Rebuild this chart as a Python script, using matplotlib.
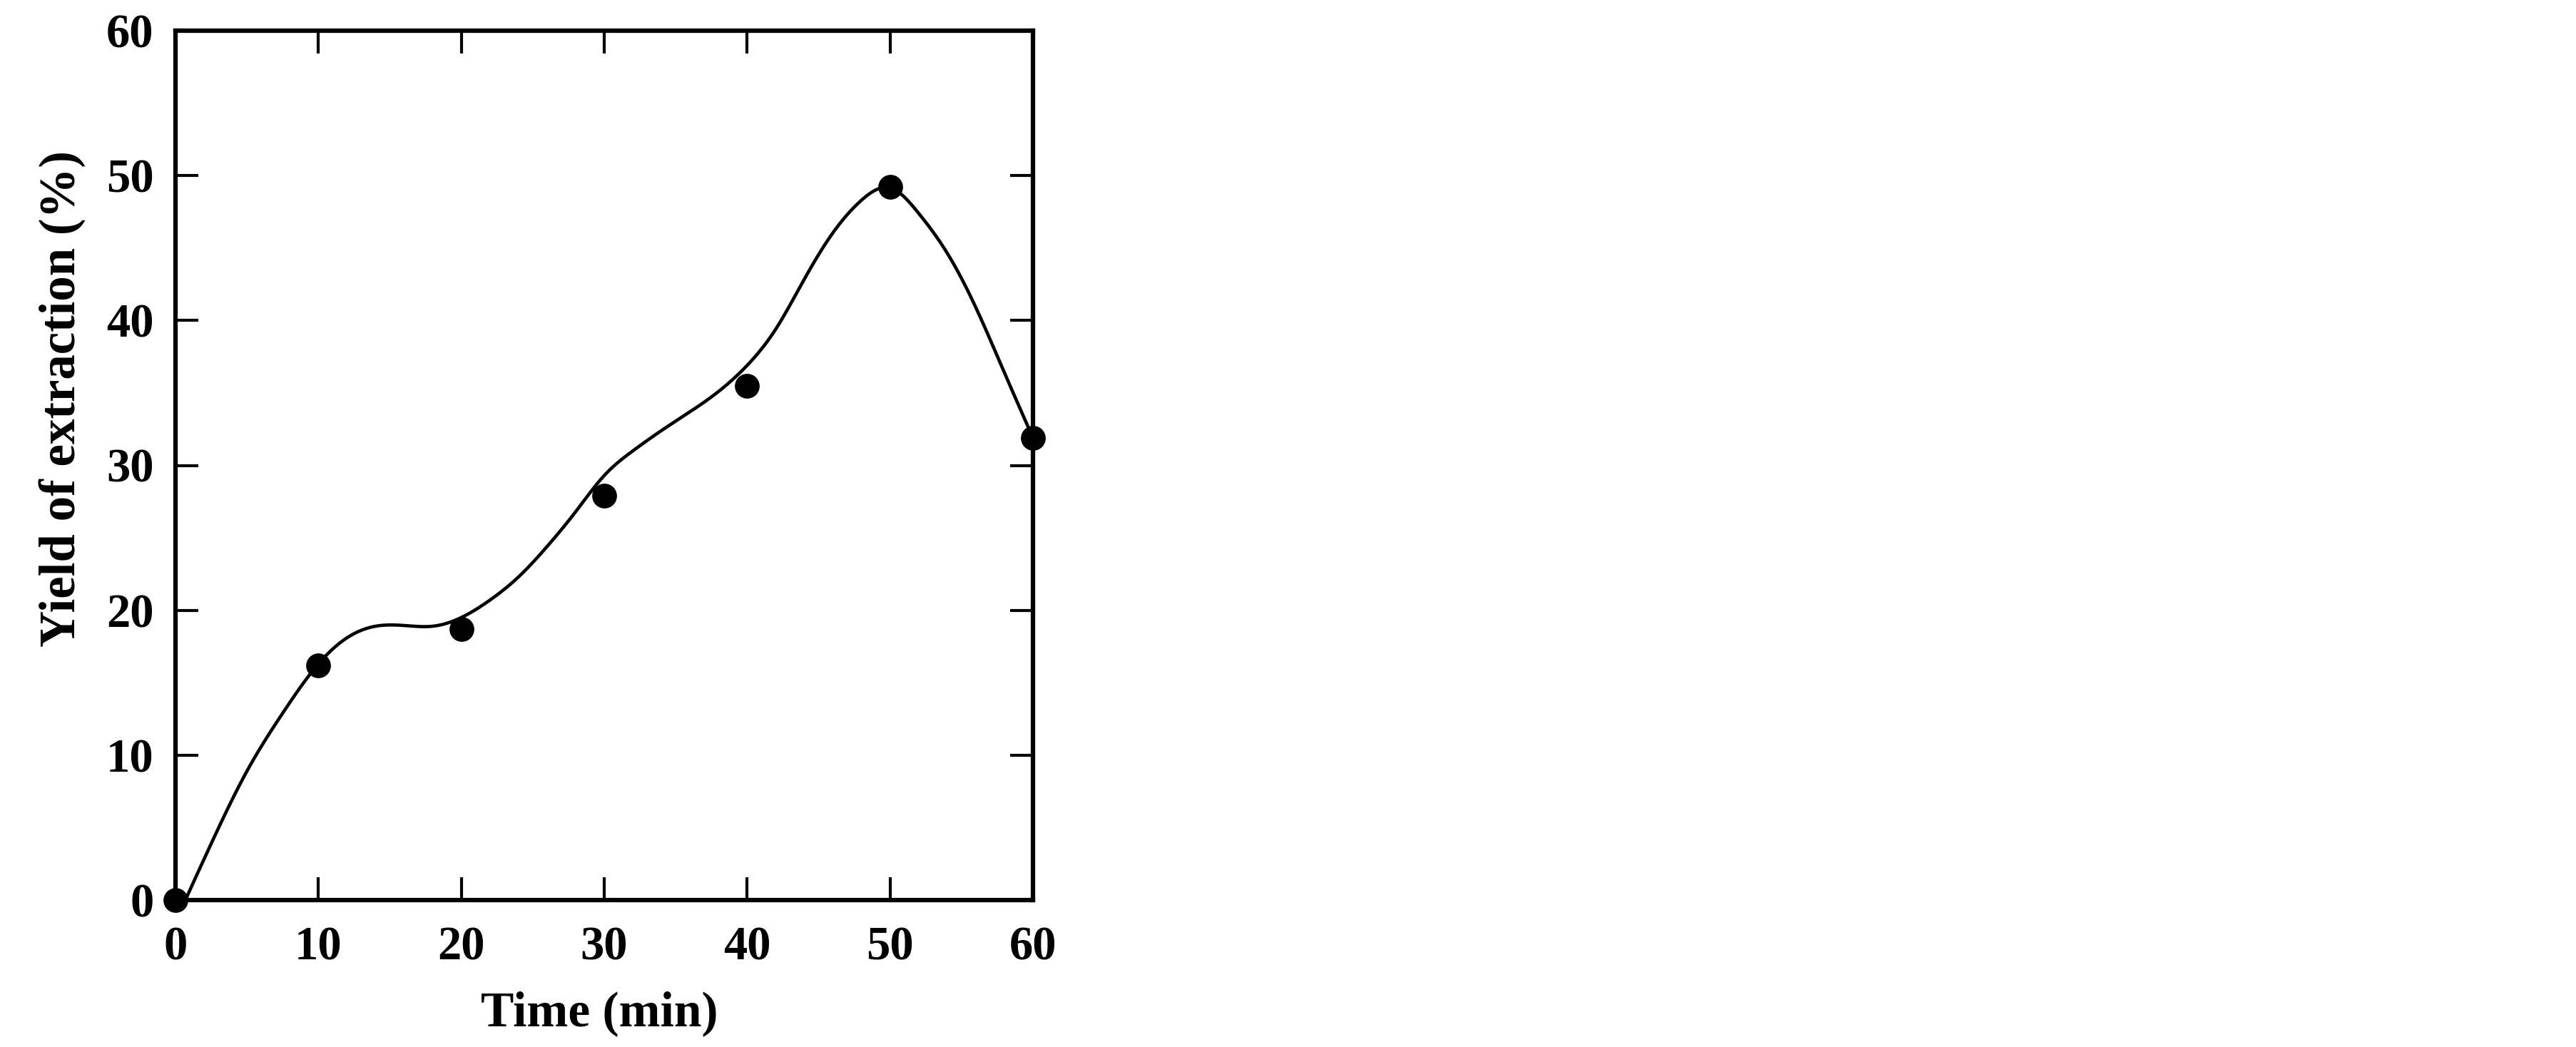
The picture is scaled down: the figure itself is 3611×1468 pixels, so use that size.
import numpy as np
import matplotlib
matplotlib.use("Agg")
import matplotlib.pyplot as plt

# Measured data points
time_min = [0, 10, 20, 30, 40, 50, 60]
yield_pct = [0.0, 16.2, 18.7, 27.9, 35.5, 49.2, 31.9]

# Knots of the smooth fitted curve
curve_x = [0, 2.5, 5, 7.5, 10, 12, 14, 16, 18, 20, 22, 24, 26, 28, 30,
           32, 34, 36, 38, 40, 42, 44, 46, 48, 50, 52, 54, 56, 58, 60]
curve_y = [-1.5, 3.9, 8.9, 12.9, 16.3, 18.1, 18.9, 18.95, 18.9, 19.5, 20.7,
           22.3, 24.4, 26.8, 29.3, 31.0, 32.4, 33.7, 35.1, 36.9, 39.4, 42.85,
           46.05, 48.3, 49.15, 47.4, 44.65, 40.9, 36.4, 31.9]

x_ticks = [0, 10, 20, 30, 40, 50, 60]
y_ticks = [0, 10, 20, 30, 40, 50, 60]


def natural_spline(xk, yk, xs):
    xk = np.asarray(xk, float)
    yk = np.asarray(yk, float)
    n = len(xk)
    h = np.diff(xk)
    A = np.zeros((n, n))
    b = np.zeros(n)
    A[0, 0] = 1
    A[-1, -1] = 1
    for i in range(1, n - 1):
        A[i, i - 1] = h[i - 1]
        A[i, i] = 2 * (h[i - 1] + h[i])
        A[i, i + 1] = h[i]
        b[i] = 3 * ((yk[i + 1] - yk[i]) / h[i] - (yk[i] - yk[i - 1]) / h[i - 1])
    c = np.linalg.solve(A, b)
    bb = (yk[1:] - yk[:-1]) / h - h * (2 * c[:-1] + c[1:]) / 3
    d = (c[1:] - c[:-1]) / (3 * h)
    idx = np.clip(np.searchsorted(xk, xs) - 1, 0, n - 2)
    dx = xs - xk[idx]
    return yk[idx] + bb[idx] * dx + c[idx] * dx ** 2 + d[idx] * dx ** 3


plt.rcParams['font.family'] = ['Liberation Serif', 'DejaVu Serif']
plt.rcParams['font.weight'] = 'bold'

fig = plt.figure(figsize=(36.12, 14.68), dpi=100)
ax = fig.add_axes([246 / 3612, 1 - 1262 / 1468, (1448 - 246) / 3612, (1262 - 43) / 1468])

xs = np.linspace(curve_x[0], curve_x[-1], 800)
ax.plot(xs, natural_spline(curve_x, curve_y, xs), color='black', lw=3.3, zorder=2)
ax.plot(time_min, yield_pct, 'o', color='black', markersize=24, clip_on=False, zorder=3)

ax.set_xlim(0, 60)
ax.set_ylim(0, 60)
ax.set_xticks(x_ticks)
ax.set_yticks(y_ticks)
ax.set_xticklabels([str(t) for t in x_ticks])
ax.set_yticklabels([str(t) for t in y_ticks])

for s in ax.spines.values():
    s.set_linewidth(4.5)
ax.tick_params(direction='in', length=23, width=3.0, top=True, right=True,
               labelsize=48, pad=26)
ax.tick_params(axis='y', pad=22)
for lab in ax.get_xticklabels() + ax.get_yticklabels():
    lab.set_fontweight('bold')

ax.set_xlabel('Time (min)', fontsize=50, fontweight='bold')
ax.set_ylabel('Yield of extraction (%)', fontsize=51, fontweight='bold')
ax.yaxis.set_label_coords(-0.105, 0.577)
ax.xaxis.set_label_coords(0.494, -0.104)

fig.savefig('out.png', dpi=100, facecolor='white')
